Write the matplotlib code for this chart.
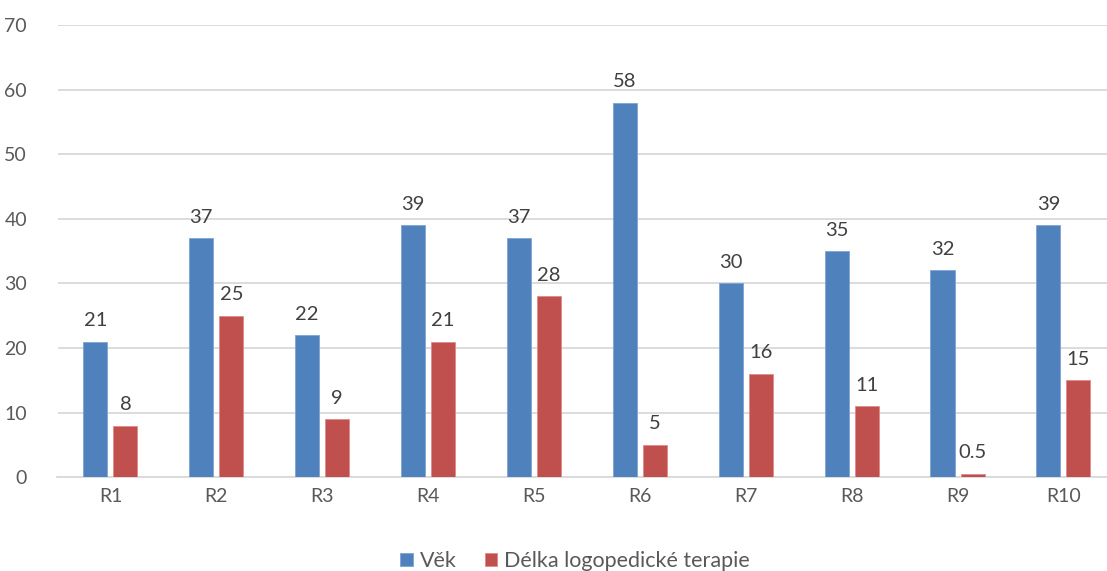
import matplotlib.pyplot as plt
import numpy as np

plt.rcParams['font.family'] = ['Lato', 'DejaVu Sans']

categories = ['R1', 'R2', 'R3', 'R4', 'R5', 'R6', 'R7', 'R8', 'R9', 'R10']
vek = [21, 37, 22, 39, 37, 58, 30, 35, 32, 39]
terapie = [8, 25, 9, 21, 28, 5, 16, 11, 0.5, 15]
yticks = [0, 10, 20, 30, 40, 50, 60, 70]

blue = '#4F81BD'
red = '#C0504D'

W, H = 1107, 571
fig = plt.figure(figsize=(W / 100, H / 100), dpi=100)
ax = fig.add_axes([57.5 / W, 1 - 477.2 / H, 1 - 57.5 / W, (477.2 - 25) / H])

x = np.arange(len(categories))
bw = 0.227
off = 0.142
b1 = ax.bar(x - off, vek, bw, color=blue, edgecolor='#7FA3D3', linewidth=0.6, label='Věk', zorder=3)
b2 = ax.bar(x + off, terapie, bw, color=red, edgecolor='#E08A88', linewidth=0.6,
            label='Délka logopedické terapie', zorder=3)

for bars, vals in ((b1, vek), (b2, terapie)):
    for r, v in zip(bars, vals):
        ax.annotate(f'{v:g}', (r.get_x() + r.get_width() / 2, r.get_height()),
                    xytext=(0, 9), textcoords='offset points', ha='center', va='bottom',
                    fontsize=14.5, color='#404040')

ax.set_xlim(-0.5, (W - 110.3) / 105.9)
ax.set_ylim(0, 70)
ax.set_yticks(yticks)
ax.set_xticks(x)
ax.set_xticklabels(categories)
ax.yaxis.grid(True, color='#D9D9D9', linewidth=1.3, zorder=0)
ax.set_axisbelow(True)
for s in ['top', 'right', 'left']:
    ax.spines[s].set_visible(False)
ax.spines['bottom'].set_color('#D9D9D9')
ax.spines['bottom'].set_linewidth(1.3)
ax.tick_params(axis='both', length=0, labelsize=14, labelcolor='#595959')
ax.tick_params(axis='y', pad=22)
ax.tick_params(axis='x', pad=8)

fig.legend(handles=[b1, b2], loc='center', bbox_to_anchor=(575 / W, 1 - 561 / H), ncol=2,
           frameon=False, fontsize=15.5, handlelength=0.6, handleheight=0.6,
           handletextpad=0.3, columnspacing=1.3, labelcolor='#595959')

fig.savefig('out.png', dpi=100)
